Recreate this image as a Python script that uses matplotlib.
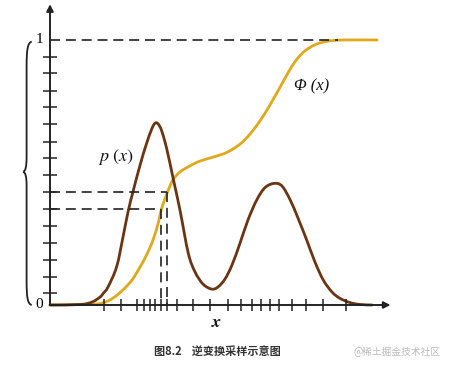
import numpy as np
import matplotlib
matplotlib.use('Agg')
import matplotlib.pyplot as plt
from matplotlib.path import Path
from matplotlib.patches import PathPatch

plt.rcParams['mathtext.fontset'] = 'stix'

# density p(x)
p_x = [0, 1.0, 1.4, 1.667, 1.777, 1.933, 2.223, 2.443, 2.61, 2.777, 3.0, 3.2, 3.39, 3.5,
       3.6, 3.72, 3.89, 4.11, 4.333, 4.61, 4.833, 5.1, 5.39, 5.6, 5.833, 6.067, 6.333,
       6.6, 6.89, 7.167, 7.477, 7.733, 8.0, 8.267, 8.557, 8.833, 9.11, 9.4, 9.667, 10.0,
       10.333, 10.733]
p_y = [0, 0.002, 0.011, 0.030, 0.044, 0.068, 0.145, 0.262, 0.356, 0.432, 0.527, 0.603, 0.664, 0.686,
       0.684, 0.658, 0.590, 0.475, 0.358, 0.195, 0.125, 0.079, 0.060, 0.068, 0.098, 0.151, 0.233,
       0.321, 0.396, 0.443, 0.459, 0.449, 0.398, 0.328, 0.245, 0.162, 0.094, 0.049, 0.025, 0.009,
       0.002, 0.0]

# distribution Phi(x)
cdf_x = [0, 1.333, 1.767, 2.1, 2.433, 2.733, 3.0, 3.233, 3.433, 3.6, 3.723, 3.923, 4.1, 4.333,
         4.667, 5.0, 5.433, 5.9, 6.333, 6.667, 7.0, 7.333, 7.767, 8.0, 8.233, 8.5, 8.833, 9.233,
         9.767, 10.9]
cdf_y = [0, 0.002, 0.008, 0.026, 0.057, 0.094, 0.143, 0.192, 0.245, 0.306, 0.365, 0.428, 0.472, 0.502,
         0.525, 0.543, 0.558, 0.576, 0.607, 0.645, 0.695, 0.755, 0.842, 0.889, 0.928, 0.959, 0.982, 0.995,
         1.0, 1.0]

# uniform levels on the y axis and the samples they give on the x axis
u_ticks = [0.044, 0.107, 0.170, 0.235, 0.298, 0.362, 0.428, 0.491, 0.554, 0.616, 0.682,
           0.746, 0.809, 0.874, 0.937]
x_samples = [1.8, 2.367, 2.9, 3.133, 3.333, 3.5, 3.7, 3.9, 4.233, 4.767, 5.333, 5.933,
             6.367, 6.733, 7.033, 7.333, 7.633, 8.067, 8.533, 9.1, 9.867]

# the two worked examples (dashed)
ex_u = [0.362, 0.428]
ex_x = [3.70, 3.89]

brown = '#6b3412'
gold = '#e0a91c'


def smooth_path(xs, ys):
    # draw a smooth curve through the read points (catmull-rom as cubic beziers)
    pts = np.column_stack([xs, ys])
    n = len(pts)
    verts = [pts[0]]
    codes = [Path.MOVETO]
    for i in range(n - 1):
        p0 = pts[max(i - 1, 0)]
        p1 = pts[i]
        p2 = pts[i + 1]
        p3 = pts[min(i + 2, n - 1)]
        verts += [p1 + (p2 - p0) / 6, p2 - (p3 - p1) / 6, p2]
        codes += [Path.CURVE4] * 3
    return Path(verts, codes)


fig = plt.figure(figsize=(4.51, 3.70), dpi=100)
ax = fig.add_axes([50/451, 65/370, 345/451, 302.1/370])
ax.set_xlim(0, 11.5)
ax.set_ylim(0, 1.14)
for s in ax.spines.values():
    s.set_visible(False)

# axes with arrows
ax.annotate('', xy=(11.35, 0), xytext=(0, 0),
            arrowprops=dict(arrowstyle='-|>', lw=1.4, color='#222222', mutation_scale=10,
                            shrinkA=0, shrinkB=0), annotation_clip=False)
ax.annotate('', xy=(0, 1.135), xytext=(0, 0),
            arrowprops=dict(arrowstyle='-|>', lw=1.4, color='#222222', mutation_scale=10,
                            shrinkA=0, shrinkB=0), annotation_clip=False)

ax.set_xticks(x_samples)
ax.set_yticks(u_ticks)
ax.set_xticklabels([])
ax.set_yticklabels([])
ax.tick_params(axis='x', direction='inout', length=8.5, width=1.1, color='#222222')
ax.tick_params(axis='y', direction='inout', length=10, width=1.1, color='#222222')

# dashed guides
ax.plot([0, 9.6], [1, 1], color='#222222', lw=1.2, dashes=(6, 3.5), clip_on=False)
for u, xs in zip(ex_u, ex_x):
    ax.plot([0, xs], [u, u], color='#222222', lw=1.2, dashes=(6, 3.5), clip_on=False)
    ax.plot([xs, xs], [u, 0], color='#222222', lw=1.2, dashes=(6, 3.5), clip_on=False)

ax.add_patch(PathPatch(smooth_path(cdf_x, cdf_y), fill=False, lw=2.0, edgecolor=gold,
                       capstyle='round', joinstyle='round', clip_on=False))
ax.add_patch(PathPatch(smooth_path(p_x, p_y), fill=False, lw=2.0, edgecolor=brown,
                       capstyle='round', joinstyle='round', clip_on=False))

ax.text(1.6, 0.558, r'$p\ (x)$', fontsize=13, va='center', ha='left', color='#111111')
ax.text(8.15, 0.824, 'Φ (x)', fontsize=12, family='Liberation Serif', style='italic',
        va='center', ha='left', color='#111111')
ax.text(5.57, -0.066, r'$\boldsymbol{x}$', fontsize=13, va='center', ha='center', color='#111111')
ax.text(-0.22, 1.0, '1', fontsize=11, family='Liberation Serif', va='center', ha='right')
ax.text(-0.22, 0.0, '0', fontsize=11, family='Liberation Serif', va='center', ha='right')

# curly brace on the left
verts = [(-0.61, 0.994), (-0.75, 0.99), (-0.78, 0.96), (-0.78, 0.90),
         (-0.78, 0.56),
         (-0.78, 0.52), (-0.82, 0.505), (-0.89, 0.503),
         (-0.82, 0.50), (-0.78, 0.485), (-0.78, 0.45),
         (-0.78, 0.09),
         (-0.78, 0.03), (-0.75, 0.004), (-0.61, 0.0)]
codes = [Path.MOVETO, Path.CURVE4, Path.CURVE4, Path.CURVE4,
         Path.LINETO,
         Path.CURVE4, Path.CURVE4, Path.CURVE4,
         Path.CURVE4, Path.CURVE4, Path.CURVE4,
         Path.LINETO,
         Path.CURVE4, Path.CURVE4, Path.CURVE4]
ax.add_patch(PathPatch(Path(verts, codes), fill=False, lw=1.3, edgecolor='#222222', clip_on=False))

fig.text(217/451, 1 - 352/370, '图8.2    逆变换采样示意图', fontsize=8, weight='bold',
         family=['Noto Sans CJK SC', 'DejaVu Sans'], color='#333333', ha='center', va='center')
fig.text(397/451, 1 - 352/370, '@稀土掘金技术社区', fontsize=7,
         family=['Noto Sans CJK SC', 'DejaVu Sans'], color='#bbbbbb', ha='center', va='center')

fig.savefig('out.png', dpi=100)
